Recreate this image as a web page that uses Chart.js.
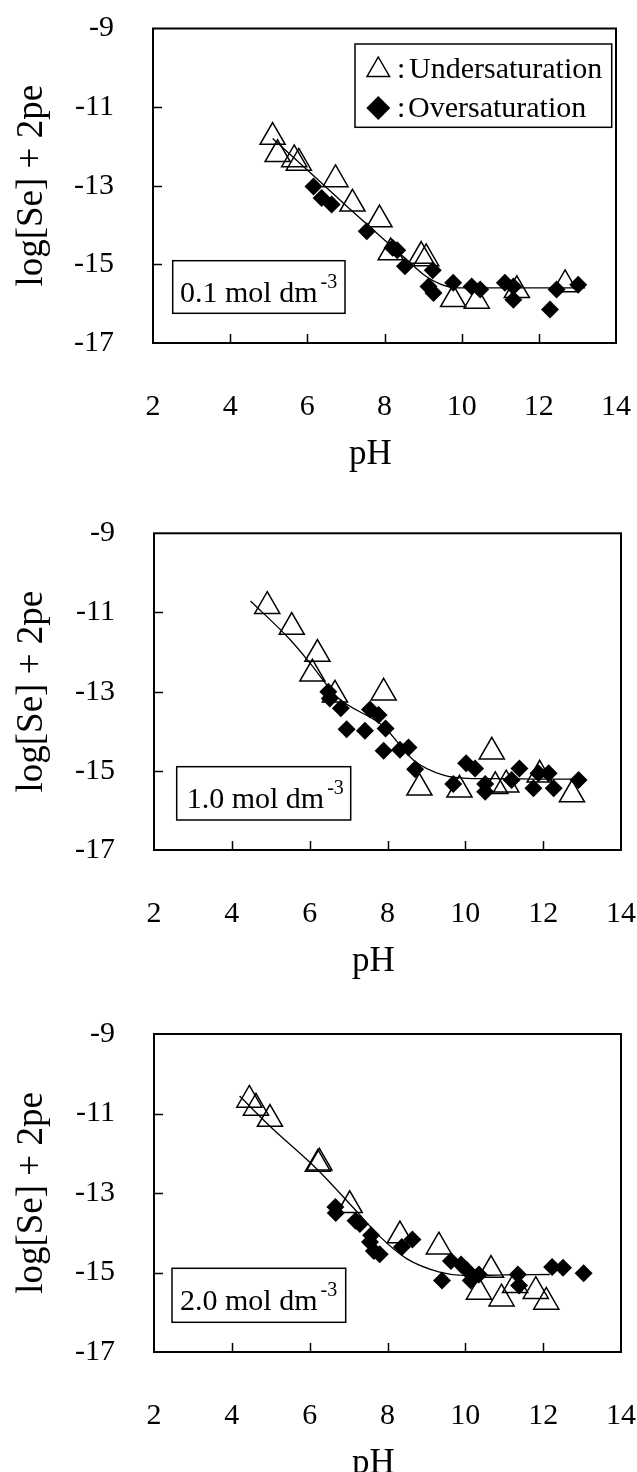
<!DOCTYPE html>
<html>
<head>
<meta charset="utf-8">
<title>log[Se] + 2pe vs pH</title>
<script src="https://cdn.jsdelivr.net/npm/chart.js@4.4.1/dist/chart.umd.min.js"></script>
<style>
  body { margin: 0; background: #fff; }
  #wrap { position: relative; width: 637px; height: 1472px; }
  canvas { position: absolute; left: 0; }
</style>
</head>
<body>
<div id="wrap">
  <canvas id="c1" width="637" height="490" style="top:0"></canvas>
  <canvas id="c2" width="637" height="490" style="top:490px"></canvas>
  <canvas id="c3" width="637" height="492" style="top:980px"></canvas>
</div>
<script>
// axis ticks (same for all three panels)
const xTicks = [2, 4, 6, 8, 10, 12, 14];
const yTicks = [-9, -11, -13, -15, -17];

// ---- 0.1 mol dm-3 ----
const p1UnderPH = [5.10, 5.23, 5.66, 5.78, 6.73, 7.17, 7.87, 8.16, 8.95, 9.08, 9.78, 10.39, 11.43, 12.68];
const p1UnderY  = [-11.76, -12.20, -12.33, -12.42, -12.84, -13.46, -13.86, -14.70, -14.79, -14.85, -15.89, -15.93, -15.66, -15.51];
const p1OverPH  = [6.16, 6.37, 6.63, 7.54, 8.21, 8.33, 8.53, 9.25, 9.14, 9.27, 9.78, 10.26, 10.48, 11.12, 11.34, 11.34, 12.29, 12.46, 13.02];
const p1OverY   = [-13.02, -13.31, -13.48, -14.16, -14.58, -14.64, -15.05, -15.15, -15.56, -15.73, -15.47, -15.56, -15.64, -15.47, -15.56, -15.90, -16.15, -15.64, -15.52];
const p1CurvePH = [5.1, 6.0, 7.0, 8.0, 8.6, 9.0, 9.5, 10.0, 11.0, 12.0, 13.2];
const p1CurveY  = [-11.80, -12.60, -13.50, -14.38, -14.90, -15.25, -15.52, -15.60, -15.60, -15.60, -15.60];

// ---- 1.0 mol dm-3 ----
const p2UnderPH = [4.91, 5.54, 6.20, 6.07, 6.65, 7.90, 8.82, 9.85, 10.68, 10.77, 11.05, 11.91, 12.74];
const p2UnderY  = [-10.84, -11.37, -12.05, -12.55, -13.08, -13.03, -15.43, -15.48, -14.52, -15.39, -15.35, -15.10, -15.60];
const p2OverPH  = [6.48, 6.52, 6.80, 6.95, 7.42, 7.55, 7.77, 7.95, 7.90, 8.32, 8.54, 8.71, 9.69, 10.02, 10.25, 10.51, 10.51, 11.19, 11.39, 11.75, 11.88, 12.14, 12.27, 12.91];
const p2OverY   = [-13.00, -13.17, -13.42, -13.95, -13.99, -13.45, -13.59, -13.93, -14.49, -14.47, -14.41, -14.96, -15.33, -14.81, -14.94, -15.33, -15.53, -15.23, -14.94, -15.44, -15.06, -15.06, -15.44, -15.23];
const p2CurvePH = [4.48, 5.5, 6.01, 6.7, 7.9, 8.67, 9.44, 10.04, 11.0, 12.0, 13.04];
const p2CurveY  = [-10.71, -11.69, -12.28, -13.13, -13.88, -14.73, -15.11, -15.19, -15.20, -15.21, -15.21];

// ---- 2.0 mol dm-3 ----
const p3UnderPH = [4.45, 4.62, 4.98, 6.25, 6.21, 7.03, 8.32, 9.32, 10.66, 10.35, 10.93, 11.28, 11.81, 12.08];
const p3UnderY  = [-10.66, -10.86, -11.14, -12.24, -12.27, -13.31, -14.07, -14.35, -14.94, -15.49, -15.66, -15.32, -15.47, -15.74];
const p3OverPH  = [6.66, 6.67, 7.18, 7.29, 7.58, 7.55, 7.65, 7.80, 8.37, 8.64, 9.40, 9.63, 9.89, 10.03, 10.14, 10.35, 11.35, 11.38, 12.23, 12.51, 13.04];
const p3OverY   = [-13.35, -13.50, -13.70, -13.78, -14.06, -14.23, -14.46, -14.54, -14.36, -14.17, -15.20, -14.71, -14.80, -14.93, -15.20, -15.05, -15.05, -15.33, -14.86, -14.88, -15.02];
const p3CurvePH = [4.2, 4.98, 6.21, 7.14, 7.82, 8.49, 9.34, 10.01, 11.0, 12.17];
const p3CurveY  = [-10.56, -11.32, -12.42, -13.39, -14.11, -14.65, -14.99, -15.08, -15.06, -15.05];

const serif = '"Liberation Serif", "Times New Roman", serif';
const pts = (xs, ys) => xs.map((v, i) => ({ x: v, y: ys[i] }));

// frame, inner ticks, titles, concentration box and legend
const decor = {
    id: 'decor',
    afterDatasetsDraw(chart, args, opts) {
        const { ctx, chartArea: a, scales: { x, y } } = chart;
        ctx.save();
        ctx.strokeStyle = '#000';
        ctx.fillStyle = '#000';
        ctx.lineWidth = 2;
        ctx.strokeRect(a.left, a.top, a.right - a.left, a.bottom - a.top);

        ctx.lineWidth = 1.5;
        ctx.beginPath();
        xTicks.slice(1, -1).forEach(v => {
            const px = Math.round(x.getPixelForValue(v)) + 0.5;
            ctx.moveTo(px, a.bottom);
            ctx.lineTo(px, a.bottom - 9);
        });
        yTicks.slice(1, -1).forEach(v => {
            const py = Math.round(y.getPixelForValue(v)) + 0.5;
            ctx.moveTo(a.left, py);
            ctx.lineTo(a.left + 9, py);
        });
        ctx.stroke();

        // axis titles
        ctx.font = '35px ' + serif;
        ctx.textBaseline = 'alphabetic';
        ctx.textAlign = 'center';
        ctx.fillText('pH', (a.left + a.right) / 2 - 14, a.bottom + 121);
        ctx.save();
        ctx.font = '37px ' + serif;
        ctx.translate(42, (a.top + a.bottom) / 2);
        ctx.rotate(-Math.PI / 2);
        ctx.fillText('log[Se] + 2pe', 0, 0);
        ctx.restore();

        // concentration label
        const c = opts.conc;
        ctx.lineWidth = 1.5;
        ctx.fillStyle = '#fff';
        ctx.fillRect(c.box[0], c.box[1], c.box[2] - c.box[0], c.box[3] - c.box[1]);
        ctx.strokeRect(c.box[0], c.box[1], c.box[2] - c.box[0], c.box[3] - c.box[1]);
        ctx.fillStyle = '#000';
        ctx.textAlign = 'left';
        ctx.font = '30px ' + serif;
        ctx.fillText(c.text, c.tx, c.ty);
        const w = ctx.measureText(c.text).width;
        ctx.font = '20px ' + serif;
        ctx.fillText(c.sup, c.tx + w + 3, c.ty - 14);

        if (opts.legend) {
            ctx.lineWidth = 1.5;
            ctx.fillStyle = '#fff';
            ctx.fillRect(355, 44, 256.7, 83.3);
            ctx.strokeRect(355, 44, 256.7, 83.3);
            ctx.fillStyle = '#000';
            // triangle
            let cx = 378.3, cy = 70, r = 13;
            ctx.beginPath();
            ctx.moveTo(cx, cy - r);
            ctx.lineTo(cx + r * 0.866, cy + r / 2);
            ctx.lineTo(cx - r * 0.866, cy + r / 2);
            ctx.closePath();
            ctx.stroke();
            // diamond
            cy = 108; r = 12;
            ctx.beginPath();
            ctx.moveTo(cx, cy - r);
            ctx.lineTo(cx + r, cy);
            ctx.lineTo(cx, cy + r);
            ctx.lineTo(cx - r, cy);
            ctx.closePath();
            ctx.fill();
            ctx.font = '30px ' + serif;
            ctx.fillText(':', 397, 78.3);
            ctx.fillText('Undersaturation', 409, 78.3);
            ctx.fillText(':', 397, 116.7);
            ctx.fillText('Oversaturation', 408, 116.7);
        }
        ctx.restore();
    }
};

function makePanel(id, box, under, over, curve, conc, legend) {
    const canvas = document.getElementById(id);
    const W = canvas.width, H = canvas.height;
    return new Chart(canvas, {
        type: 'scatter',
        data: {
            datasets: [
                {
                    data: curve,
                    showLine: true,
                    borderColor: '#000',
                    borderWidth: 1.3,
                    pointRadius: 0,
                    cubicInterpolationMode: 'monotone',
                    fill: false
                },
                {
                    label: 'Oversaturation',
                    data: over,
                    pointStyle: 'rectRot',
                    pointRadius: 9,
                    backgroundColor: '#000',
                    borderColor: '#000',
                    borderWidth: 0
                },
                {
                    label: 'Undersaturation',
                    data: under,
                    pointStyle: 'triangle',
                    pointRadius: 14.5,
                    backgroundColor: 'rgba(0,0,0,0)',
                    borderColor: '#000',
                    borderWidth: 1.5
                }
            ]
        },
        options: {
            responsive: false,
            animation: false,
            events: [],
            layout: { padding: { left: 0, top: box.T, right: W - box.R, bottom: 0 } },
            plugins: {
                legend: { display: false },
                tooltip: { enabled: false },
                decor: { conc: conc, legend: legend }
            },
            scales: {
                x: {
                    type: 'linear', min: 2, max: 14,
                    grid: { display: false },
                    border: { display: false },
                    afterBuildTicks: s => { s.ticks = xTicks.map(v => ({ value: v })); },
                    afterFit: s => { s.height = H - box.B; s.paddingLeft = 0; s.paddingRight = 0; },
                    ticks: { color: '#000', padding: 38, maxRotation: 0, font: { family: serif, size: 30 } }
                },
                y: {
                    type: 'linear', min: -17, max: -9,
                    grid: { display: false },
                    border: { display: false },
                    afterBuildTicks: s => { s.ticks = yTicks.map(v => ({ value: v })); },
                    afterFit: s => { s.width = box.L; s.paddingTop = 0; s.paddingBottom = 0; },
                    ticks: { color: '#000', padding: 31, font: { family: serif, size: 30 }, callback: v => String(v) }
                }
            }
        },
        plugins: [decor]
    });
}

makePanel('c1', { L: 153, R: 616, T: 28.5, B: 343 },
    pts(p1UnderPH, p1UnderY), pts(p1OverPH, p1OverY), pts(p1CurvePH, p1CurveY),
    { text: '0.1 mol dm', sup: '-3', box: [172.7, 260.7, 345, 313.3], tx: 180, ty: 301.7 }, true);

makePanel('c2', { L: 154, R: 621, T: 43.3, B: 360 },
    pts(p2UnderPH, p2UnderY), pts(p2OverPH, p2OverY), pts(p2CurvePH, p2CurveY),
    { text: '1.0 mol dm', sup: '-3', box: [176.7, 276.7, 350.7, 330], tx: 186.7, ty: 318.3 }, false);

makePanel('c3', { L: 154, R: 627, T: 54, B: 372 },
    pts(p3UnderPH, p3UnderY), pts(p3OverPH, p3OverY), pts(p3CurvePH, p3CurveY),
    { text: '2.0 mol dm', sup: '-3', box: [172, 288.3, 345.7, 342.3], tx: 180, ty: 330 }, false);
</script>
</body>
</html>
